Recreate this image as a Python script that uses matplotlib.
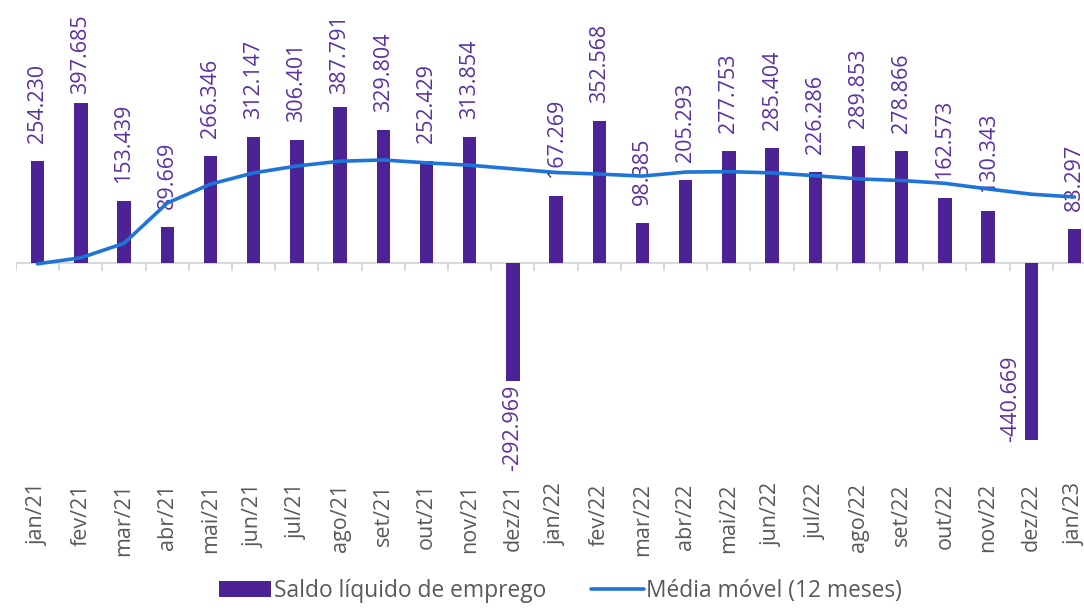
import numpy as np
import matplotlib
matplotlib.use("Agg")
import matplotlib.pyplot as plt

# ========== data ==========
meses = ["jan/21", "fev/21", "mar/21", "abr/21", "mai/21", "jun/21", "jul/21",
         "ago/21", "set/21", "out/21", "nov/21", "dez/21", "jan/22", "fev/22",
         "mar/22", "abr/22", "mai/22", "jun/22", "jul/22", "ago/22", "set/22",
         "out/22", "nov/22", "dez/22", "jan/23"]
saldo = [254.230, 397.685, 153.439, 89.669, 266.346, 312.147, 306.401,
         387.791, 329.804, 252.429, 313.854, -292.969, 167.269, 352.568,
         98.385, 205.293, 277.753, 285.404, 226.286, 289.853, 278.866,
         162.573, 130.343, -440.669, 83.297]
media_movel = [-2, 13, 49, 149, 196, 224, 241, 253, 256, 249, 243, 234,
               225, 221, 216, 226, 227, 224, 217, 209, 205, 198, 184, 171, 164]

roxo = "#4B2394"
roxo_txt = "#5A32A0"
azul = "#1F74D8"
cinza = "#595959"

plt.rcParams['font.family'] = ['Open Sans', 'DejaVu Sans']

fig = plt.figure(figsize=(10.84, 6.15), dpi=100)
ax = fig.add_axes([16 / 1084, 1 - 475 / 615, 1 - 16 / 1084, 475 / 615])

x = np.arange(len(meses))
ax.set_xlim(-0.5, 24.22)
ax.set_ylim(-526.8, 653.6)

barras = ax.bar(x, saldo, width=0.31, color=roxo, zorder=2,
                label="Saldo líquido de emprego")
linha, = ax.plot(x, media_movel, color=azul, lw=2.6, zorder=4,
                 solid_capstyle="round", label="Média móvel (12 meses)")

# zero line and category tick marks
ax.axhline(0, color="#D9D9D9", lw=1.5, zorder=1)
ax.vlines(np.arange(len(meses) + 1) - 0.5, -20, 0, color="#D9D9D9", lw=1.5, zorder=1)

# data labels
fs = 15.5
for xi, v in zip(x, saldo):
    txt = f"{v:,.3f}".replace(",", "")
    if v >= 0:
        ax.text(xi, min(v + 45, 420), txt, rotation=90, ha="center", va="bottom",
                color=roxo_txt, fontsize=fs, zorder=3)
    elif v > -400:
        ax.text(xi, v - 10, txt, rotation=90, ha="center", va="top",
                color=roxo_txt, fontsize=fs, zorder=3)
    else:
        ax.text(xi - 0.47, v - 4, txt, rotation=90, ha="center", va="bottom",
                color=roxo_txt, fontsize=fs, zorder=3)

ax.set_xticks(x)
ax.set_xticklabels(meses, rotation=90, color=cinza, fontsize=fs)
ax.tick_params(axis="x", length=0, pad=6)
ax.set_yticks([])
for s in ax.spines.values():
    s.set_visible(False)

fig.legend([barras, linha], ["Saldo líquido de emprego", "Média móvel (12 meses)"],
           loc="lower center", bbox_to_anchor=(0.517, -0.014), ncol=2, frameon=False,
           fontsize=16.4, labelcolor=cinza, handlelength=2.3, handleheight=0.7,
           handletextpad=0.1, columnspacing=2.0)

fig.savefig("out.png", dpi=100)
